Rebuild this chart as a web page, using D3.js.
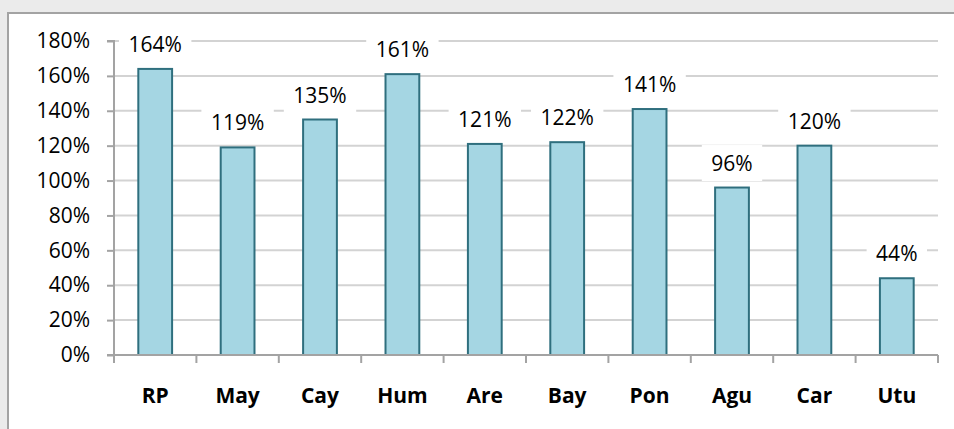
<!DOCTYPE html>
<html>
<head>
<meta charset="utf-8">
<script src="https://cdn.jsdelivr.net/npm/d3@7"></script>
<style>
  body { margin: 0; background: #ebebeb; }
  text { font-family: "Open Sans", "Liberation Sans", sans-serif; fill: #000; }
</style>
</head>
<body>
<svg id="chart"></svg>
<script>
// data
const categories = ['RP', 'May', 'Cay', 'Hum', 'Are', 'Bay', 'Pon', 'Agu', 'Car', 'Utu'];
const values = [164, 119, 135, 161, 121, 122, 141, 96, 120, 44];
const yTicks = [0, 20, 40, 60, 80, 100, 120, 140, 160, 180];

// colors
const barFill = '#a5d6e3';
const barStroke = '#2f6f7e';
const gridColor = '#d3d3d3';
const axisColor = '#a3a3a3';

// window constants
const width = 954;
const height = 429;
const plot = { left: 114, right: 938, top: 41, bottom: 355 };

const svg = d3.select('#chart')
    .attr('width', width)
    .attr('height', height);

// chart frame
svg.append('rect')
    .attr('x', 8).attr('y', 13)
    .attr('width', width).attr('height', height)
    .attr('fill', '#fff')
    .attr('stroke', axisColor)
    .attr('stroke-width', 2);

const x = d3.scaleBand()
    .domain(categories)
    .range([plot.left, plot.right])
    .padding(0);

const y = d3.scaleLinear()
    .domain([0, 180])
    .range([plot.bottom, plot.top]);

// gridlines
svg.append('g')
    .selectAll('line')
    .data(yTicks.slice(1))
    .enter()
    .append('line')
        .attr('x1', plot.left).attr('x2', plot.right)
        .attr('y1', d => y(d)).attr('y2', d => y(d))
        .attr('stroke', gridColor)
        .attr('stroke-width', 2);

// bars
const barW = x.bandwidth() * 0.41;
svg.append('g')
    .selectAll('rect')
    .data(values)
    .enter()
    .append('rect')
        .attr('x', (d, i) => x(categories[i]) + (x.bandwidth() - barW) / 2)
        .attr('y', d => y(d))
        .attr('width', barW)
        .attr('height', d => y(0) - y(d))
        .attr('fill', barFill)
        .attr('stroke', barStroke)
        .attr('stroke-width', 2);

// data labels with white boxes
const labels = svg.append('g')
    .selectAll('g')
    .data(values)
    .enter()
    .append('g')
        .attr('transform', (d, i) => `translate(${x(categories[i]) + x.bandwidth() / 2},${y(d) - 24.5})`);

labels.append('rect').attr('fill', '#fff');
labels.append('text')
    .attr('text-anchor', 'middle')
    .attr('dy', '0.36em')
    .style('font-size', '21px')
    .text(d => d + '%');
labels.each(function () {
    const g = d3.select(this);
    const w = g.select('text').node().getComputedTextLength() + 19;
    g.select('rect')
        .attr('x', -w / 2).attr('y', -18)
        .attr('width', w).attr('height', 36);
});

// y axis
const yAxis = svg.append('g')
    .attr('transform', `translate(${plot.left},0)`)
    .call(d3.axisLeft(y).tickValues(yTicks).tickFormat(d => d + '%').tickSize(7).tickPadding(17));
yAxis.selectAll('line, path').attr('stroke', axisColor).attr('stroke-width', 2);
yAxis.select('.domain').attr('d', `M-7,${plot.top}H0V${plot.bottom}H-7`);
yAxis.selectAll('text').style('font-size', '21px').attr('fill', '#000');

// x axis
const xAxis = svg.append('g')
    .attr('transform', `translate(0,${plot.bottom})`);
xAxis.append('line')
    .attr('x1', plot.left).attr('x2', plot.right)
    .attr('stroke', axisColor).attr('stroke-width', 2);
xAxis.selectAll('.tick')
    .data(categories.map(c => x(c)).concat([plot.right]))
    .enter()
    .append('line')
        .attr('x1', d => d).attr('x2', d => d)
        .attr('y1', 0).attr('y2', 8)
        .attr('stroke', axisColor).attr('stroke-width', 2);
xAxis.selectAll('text')
    .data(categories)
    .enter()
    .append('text')
        .attr('x', d => x(d) + x.bandwidth() / 2)
        .attr('y', 40)
        .attr('dy', '0.36em')
        .attr('text-anchor', 'middle')
        .style('font-size', '21px')
        .style('font-weight', 'bold')
        .text(d => d);
</script>
</body>
</html>
